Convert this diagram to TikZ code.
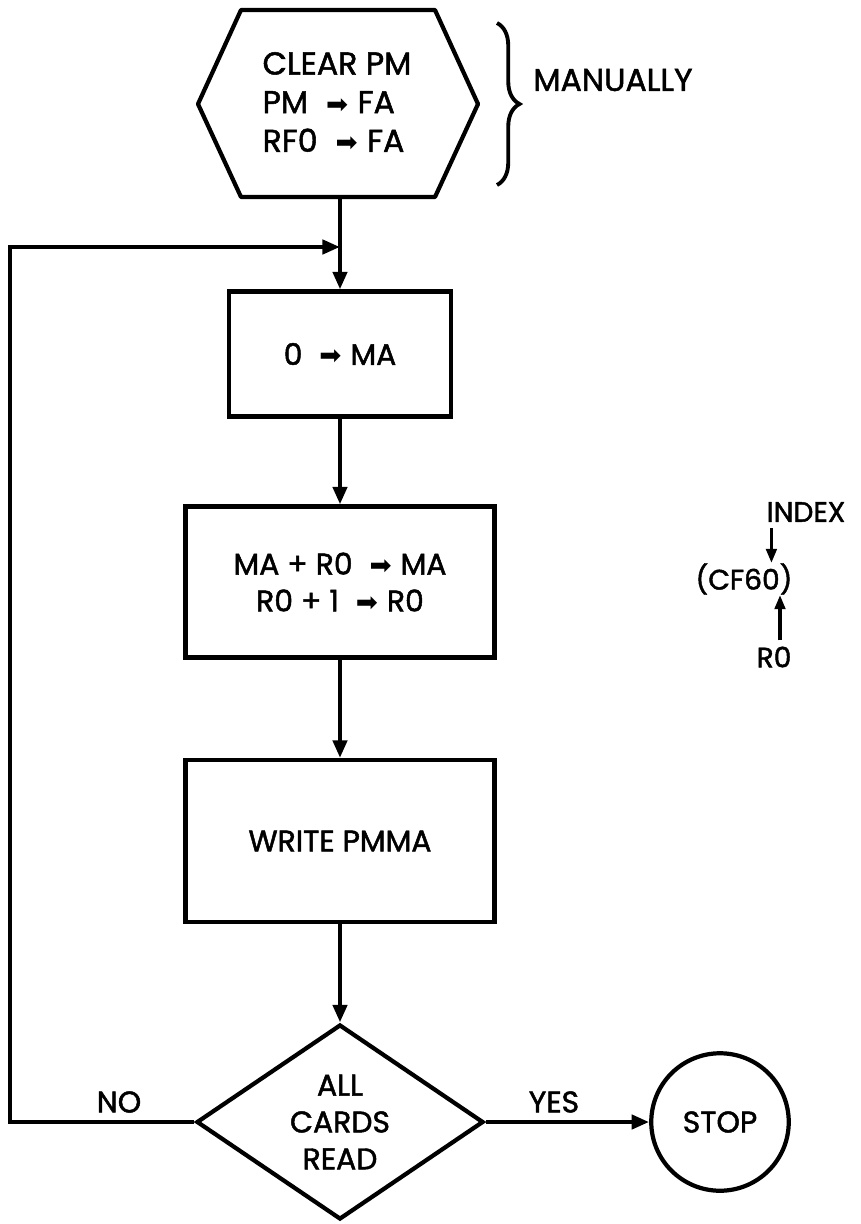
\documentclass[tikz,border=0pt]{standalone}
\usepackage{fontspec}
\setmainfont{Poppins}[FakeBold=1.6]
\newfontfamily\arrowfont{DejaVu Sans}
\usetikzlibrary{arrows.meta,calc,positioning,shapes.geometric,decorations.pathreplacing}
\newcommand{\into}{\hspace{0.3em}{\arrowfont\fontsize{15}{15}\selectfont ➡}\hspace{0.3em}}

\begin{document}
\begin{tikzpicture}[x=0.02cm,y=-0.02cm,
        font=\fontsize{17}{21}\selectfont,
        every node/.style={inner sep=0pt},
        box/.style={draw,line width=2.4pt,align=center},
        flow/.style={line width=2.4pt,-{Triangle[length=10pt,width=8pt]}},
        tick/.style={line width=1.8pt,-{Triangle[length=8pt,width=6pt]}},
        tag/.style={font=\fontsize{16}{19}\selectfont}]
  \useasboundingbox (0,0) rectangle (860,1224);
  % manual start
  \node[align=left,font=\fontsize{18}{22}\selectfont] (start) at (337,102) {CLEAR PM\\PM \into FA\\RF0 \into FA};
  \draw[line width=2.4pt,line join=round] (198,104) -- (241,10) -- (435,10) -- (478,104) -- (435,197) -- (241,197) -- cycle;
  \coordinate (hexbot) at (340,197);
  \draw[line width=2.2pt,decorate,decoration={brace,amplitude=0.45cm}] (497,23) -- (497,185);
  \node[anchor=west,font=\fontsize{18}{22}\selectfont] (manual) at (533,80) {MANUALLY};
  % loop body
  \node[box,minimum width=4.44cm,minimum height=2.5cm] (clear) at (340,354) {0 \into MA};
  \node[box,minimum width=6.18cm,minimum height=3.02cm] (add) at (340,582) {MA + R0 \into MA\\R0 + 1 \into R0};
  \node[box,minimum width=6.18cm,minimum height=3.24cm] (write) at (340,841) {WRITE PMMA};
  \node[draw,line width=2.4pt,shape=diamond,aspect=1.47,minimum width=5.74cm,minimum height=3.9cm,align=center] (test) at (340,1122) {ALL\\CARDS\\READ};
  \node[draw,line width=2.4pt,circle,minimum size=2.75cm] (stop) at (720,1122) {STOP};
  \coordinate (back) at (10,247);
  \draw[flow] (hexbot) -- (clear);
  \draw[flow] (clear) -- (add);
  \draw[flow] (add) -- (write);
  \draw[flow] (write) -- (test);
  \draw[flow] (test) -- (stop);
  \draw[flow] (test.west) -- (test.west -| back) -- (back) -- (back -| hexbot);
  \node (no) at (119,1102) {NO};
  \node (yes) at (554,1102) {YES};
  % index note
  \node[tag] (index) at (806,512) {INDEX};
  \node[tag] (cf) at (744,579) {(CF60)};
  \node[tag] (rzero) at (774,657) {R0};
  \draw[tick] ([xshift=0.1cm,yshift=-0.12cm]index.south west) -- ([xshift=0.1cm]index.south west |- cf.north);
  \draw[tick] ([xshift=0.12cm,yshift=0.12cm]rzero.north) -- ([xshift=0.12cm]rzero.north |- cf.south);
\end{tikzpicture}
\end{document}
